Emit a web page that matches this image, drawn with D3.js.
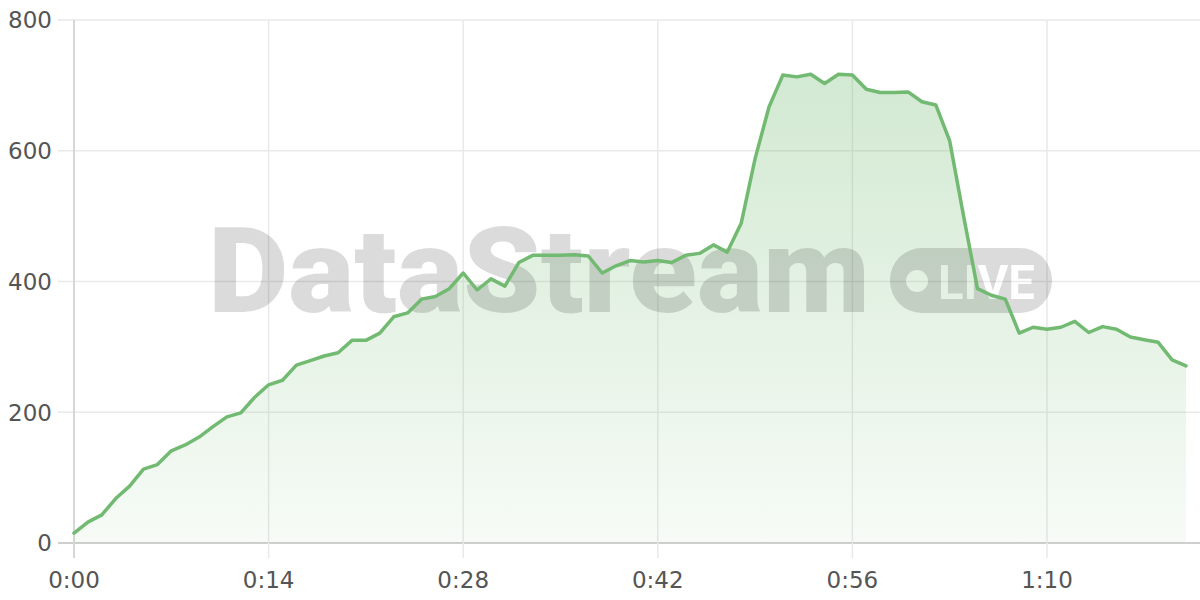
<!DOCTYPE html>
<html>
<head>
<meta charset="utf-8">
<script src="https://cdn.jsdelivr.net/npm/d3@7/dist/d3.min.js"></script>
<style>
  html, body { margin: 0; padding: 0; background: #fff; }
  svg { display: block; }
</style>
</head>
<body>
<svg id="chart" width="1200" height="600"></svg>
<script>
const seconds = d3.range(0, 81);
const values = [15,32,43,68,87,113,120,141,150,162,178,193,199,223,242,249,272,279,286,291,
  310,310,321,346,352,373,377,389,413,387,404,393,429,440,440,440,441,439,413,424,
  432,430,432,429,440,443,456,445,489,588,667,716,713,717,703,717,716,694,689,689,
  690,675,670,615,500,389,379,373,321,330,327,330,339,322,331,327,315,311,307,280,271];
const xTicks = [0, 14, 28, 42, 56, 70];
const xTickLabels = ["0:00", "0:14", "0:28", "0:42", "0:56", "1:10"];
const yTicks = [0, 200, 400, 600, 800];
const yTickLabels = ["0", "200", "400", "600", "800"];

(function () {
const data = seconds.map((s, i) => ({ s, v: values[i] }));

const svg = d3.select("#chart");
const pLeft = 74, pRight = 74 + 81 * 13.9, pTop = 20, pBottom = 543;

const x = d3.scaleLinear().domain([0, 81]).range([pLeft, pRight]);
const y = d3.scaleLinear().domain([0, 800]).range([pBottom, pTop]);

const defs = svg.append("defs");
const grad = defs.append("linearGradient").attr("id", "areaGrad")
  .attr("gradientUnits", "userSpaceOnUse")
  .attr("x1", 0).attr("y1", y(720)).attr("x2", 0).attr("y2", y(0));
grad.append("stop").attr("offset", "0%").attr("stop-color", "#72ba72").attr("stop-opacity", 0.32);
grad.append("stop").attr("offset", "100%").attr("stop-color", "#72ba72").attr("stop-opacity", 0.06);

// grid
const grid = svg.append("g");
grid.selectAll("line.h").data(yTicks).join("line")
  .attr("x1", pLeft - 16).attr("x2", 1200)
  .attr("y1", d => y(d)).attr("y2", d => y(d))
  .attr("stroke", d => d === 0 ? "#cfcfcf" : "#e9e9e9")
  .attr("stroke-width", d => d === 0 ? 2 : 1.5);
grid.selectAll("line.v").data(xTicks).join("line")
  .attr("x1", d => x(d)).attr("x2", d => x(d))
  .attr("y1", pTop).attr("y2", pBottom + 15)
  .attr("stroke", d => d === 0 ? "#d6d6d6" : "#e9e9e9")
  .attr("stroke-width", d => d === 0 ? 2 : 1.5);

// area
const area = d3.area().x(d => x(d.s)).y0(y(0)).y1(d => y(d.v));
svg.append("path").datum(data).attr("d", area).attr("fill", "url(#areaGrad)");

// watermark
const mask = defs.append("mask").attr("id", "pillMask")
  .attr("maskUnits", "userSpaceOnUse").attr("x", 0).attr("y", 0).attr("width", 1200).attr("height", 600);
mask.append("rect").attr("x", 890).attr("y", 248).attr("width", 162).attr("height", 65).attr("rx", 32).attr("fill", "#fff");
mask.append("circle").attr("cx", 917).attr("cy", 281).attr("r", 11).attr("fill", "#000");
mask.append("text").attr("x", 938).attr("y", 299).attr("font-family", "Roboto, 'Liberation Sans', sans-serif")
  .attr("font-size", 48).attr("font-weight", 700).attr("textLength", 97).attr("lengthAdjust", "spacingAndGlyphs")
  .attr("fill", "#000").text("LIVE");
const wm = svg.append("g").attr("fill", "rgba(0,0,0,0.14)");
wm.append("text").attr("x", 208).attr("y", 312)
  .attr("font-family", "Roboto, Inter, 'Liberation Sans', sans-serif")
  .attr("font-size", 118).attr("font-weight", 900)
  .attr("textLength", 662).attr("lengthAdjust", "spacingAndGlyphs")
  .text("DataStream");
wm.append("rect").attr("x", 890).attr("y", 248).attr("width", 162).attr("height", 65)
  .attr("mask", "url(#pillMask)");

// line
const line = d3.line().x(d => x(d.s)).y(d => y(d.v));
svg.append("path").datum(data).attr("d", line)
  .attr("fill", "none").attr("stroke", "#72ba72").attr("stroke-width", 3.5)
  .attr("stroke-linejoin", "round").attr("stroke-linecap", "round");

// axes labels
const font = "'DejaVu Sans', sans-serif";
svg.append("g").selectAll("text").data(yTicks).join("text")
  .attr("x", 52).attr("y", d => y(d)).attr("dy", "0.36em")
  .attr("text-anchor", "end").attr("font-family", font).attr("font-size", 23)
  .attr("fill", "#555").text((d, i) => yTickLabels[i]);
svg.append("g").selectAll("text").data(xTicks).join("text")
  .attr("x", d => x(d)).attr("y", 588)
  .attr("text-anchor", "middle").attr("font-family", font).attr("font-size", 23)
  .attr("fill", "#555").text((d, i) => xTickLabels[i]);
})();
</script>
</body>
</html>
